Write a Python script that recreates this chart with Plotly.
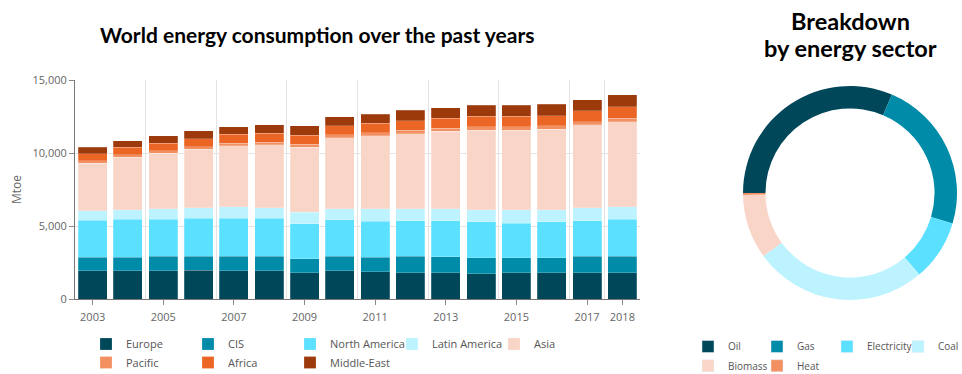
import plotly.graph_objects as go

W, H = 962, 374

years = list(range(2003, 2019))
regions = ["Europe", "CIS", "North America", "Latin America", "Asia", "Pacific", "Africa", "Middle-East"]
region_colors = ["#00475A", "#008BA8", "#5CE0FF", "#BDF3FF", "#F9D5C7", "#F29062", "#EB6525", "#9D3A0C"]

europe = [1920, 1920, 1920, 1985, 1920, 1920, 1805, 1920, 1870, 1805, 1805, 1735, 1805, 1805, 1805, 1805]
cis = [935, 935, 1005, 935, 1005, 1005, 960, 1005, 1005, 1120, 1075, 1075, 1005, 1005, 1120, 1120]
north_america = [2535, 2605, 2535, 2605, 2605, 2605, 2395, 2490, 2465, 2420, 2465, 2465, 2395, 2490, 2420, 2535]
latin_america = [640, 660, 730, 710, 775, 710, 775, 775, 845, 845, 845, 845, 915, 820, 890, 845]
asia = [3265, 3585, 3790, 4020, 4180, 4315, 4475, 4865, 5000, 5135, 5295, 5455, 5435, 5505, 5685, 5845]
pacific = [180, 160, 185, 185, 185, 185, 185, 185, 205, 230, 205, 230, 250, 230, 230, 230]
africa = [460, 525, 500, 550, 615, 615, 615, 615, 640, 660, 705, 705, 705, 710, 730, 775]
middle_east = [460, 455, 500, 525, 525, 595, 660, 640, 640, 705, 710, 775, 755, 775, 755, 820]
region_values = [europe, cis, north_america, latin_america, asia, pacific, africa, middle_east]

x_tick_years = [2003, 2005, 2007, 2009, 2011, 2013, 2015, 2017, 2018]
y_ticks = [0, 5000, 10000, 15000]

sectors = ["Oil", "Gas", "Electricity", "Coal", "Biomass", "Heat"]
sector_shares = [31.4, 23.2, 9.2, 26.2, 9.7, 0.3]
sector_colors = ["#00475A", "#008BA8", "#5CE0FF", "#BDF3FF", "#F9D5C7", "#F29062"]
sector_legend_widths = [24, 25, 26, 24, 24, 24]

def px(x):
    return x / W

def py(y):
    return 1 - y / H

FONT = "Open Sans"
GRAY = "#666666"

fig = go.Figure()

for i, (name, vals, col) in enumerate(zip(regions, region_values, region_colors)):
    fig.add_trace(go.Bar(
        x=years, y=vals, name=name,
        marker=dict(color=col, line=dict(color="rgba(255,255,255,0.35)", width=0.6)),
        legend="legend" if i < 5 else "legend2",
        xaxis="x", yaxis="y",
    ))

# donut
fig.add_trace(go.Pie(
    labels=sectors, values=sector_shares,
    marker=dict(colors=sector_colors, line=dict(width=0)),
    hole=0.79, sort=False, direction="clockwise", rotation=270,
    textinfo="none", showlegend=False,
    domain=dict(x=[px(743), px(957)], y=[py(300), py(86)]),
))

# legend entries for the donut
for i, (name, col, lw) in enumerate(zip(sectors, sector_colors, sector_legend_widths)):
    fig.add_trace(go.Bar(
        x=[None], y=[None], name=name, marker=dict(color=col),
        legend="legend3" if i < 4 else "legend4", legendwidth=lw,
        xaxis="x", yaxis="y", hoverinfo="skip",
    ))

# invisible helper on the grid axis so it is rendered
fig.add_trace(go.Scatter(x=[None], y=[None], xaxis="x2", yaxis="y", showlegend=False, hoverinfo="skip"))

x_dom = [px(75), px(640)]
y_dom = [py(299), py(80)]

grid_vals = [y - 0.5 for y in x_tick_years] + [2018.5]

leg_common = dict(orientation="h", bgcolor="rgba(0,0,0,0)", borderwidth=0,
                  font=dict(family=FONT, size=11, color="#555555"),
                  xanchor="left", yanchor="middle", itemwidth=30, traceorder="normal")

title_font = dict(family="Lato", size=21, color="black")

fig.update_layout(
    width=W, height=H,
    margin=dict(l=0, r=0, t=0, b=0, autoexpand=False),
    paper_bgcolor="white", plot_bgcolor="white",
    barmode="stack", bargap=0.18,
    xaxis=dict(domain=x_dom, range=[2002.5, 2018.5], tickvals=x_tick_years,
               ticktext=[str(v) for v in x_tick_years],
               showgrid=False, zeroline=False, showline=True, linecolor="#777777", linewidth=1,
               ticks="outside", ticklen=5, tickcolor="#888888", ticklabelstandoff=3,
               tickfont=dict(family=FONT, size=11, color=GRAY), anchor="y"),
    xaxis2=dict(domain=x_dom, range=[2002.5, 2018.5], overlaying="x", anchor="y",
                tickvals=grid_vals, showticklabels=False, ticks="",
                showgrid=True, gridcolor="#E3E3E3", gridwidth=1, zeroline=False, showline=False),
    yaxis=dict(domain=y_dom, range=[0, 15000], tickvals=y_ticks, tickformat=",d",
               showgrid=True, gridcolor="#E3E3E3", zeroline=False,
               showline=True, linecolor="#777777", linewidth=1,
               ticks="outside", ticklen=5, tickcolor="#888888",
               tickfont=dict(family=FONT, size=11, color=GRAY),
               title=dict(text="Mtoe", font=dict(family=FONT, size=12, color=GRAY), standoff=8)),
    legend=dict(leg_common, x=px(106 - 20), y=py(344), entrywidth=57),
    legend2=dict(leg_common, x=px(106 - 20), y=py(362.5), entrywidth=57),
    legend3=dict(leg_common, x=px(708 - 20), y=py(346.5),
                 font=dict(family=FONT, size=10, color="#555555")),
    legend4=dict(leg_common, x=px(708 - 20), y=py(365.7),
                 font=dict(family=FONT, size=10, color="#555555")),
    annotations=[
        dict(text="<b>World energy consumption over the past years</b>", x=px(317), y=py(34),
             xref="paper", yref="paper", xanchor="center", yanchor="middle", showarrow=False,
             font=title_font),
        dict(text="<b>Breakdown</b>", x=px(850), y=py(21),
             xref="paper", yref="paper", xanchor="center", yanchor="middle", showarrow=False,
             font=dict(title_font, size=23.5)),
        dict(text="<b>by energy sector</b>", x=px(850), y=py(48),
             xref="paper", yref="paper", xanchor="center", yanchor="middle", showarrow=False,
             font=dict(title_font, size=23.5)),
    ],
)

fig.write_html("out.html")
